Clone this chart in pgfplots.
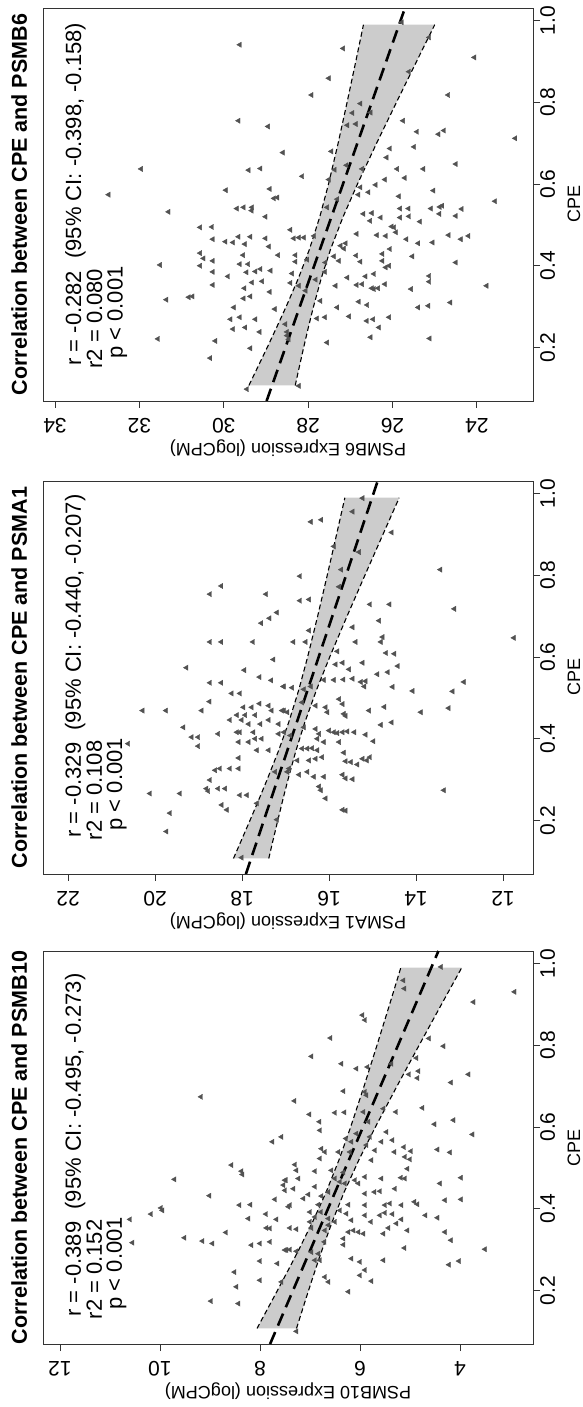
\documentclass[border=0pt]{standalone}
\usepackage{fontspec}
\setmainfont{Liberation Sans}
\usepackage{pgfplots}
\pgfplotsset{compat=1.18}
\newcommand{\tickfont}{\fontsize{21}{21}\selectfont}
\newcommand{\labfont}{\fontsize{18}{18}\selectfont}
\newcommand{\annfont}{\fontsize{22}{22}\selectfont}
\newcommand{\titfont}{\bfseries\fontsize{21.5}{21.5}\selectfont}
\pgfplotsset{
  panel/.style={
    width=393pt, height=490pt, scale only axis,
    xmin=0.069, xmax=1.031,
    axis line style={black!80, line width=0.9pt},
    every tick/.style={black!80, line width=0.9pt},
    tick align=outside, major tick length=7pt,
    xtick pos=bottom, ytick pos=left,
    xtick={0.2,0.4,0.6,0.8,1.0}, xticklabels={0.2,0.4,0.6,0.8,1.0},
    xticklabel style={font=\tickfont, anchor=north, inner sep=0pt},
    yticklabel style={font=\tickfont, rotate=90, anchor=south, inner sep=0pt},
    yticklabel shift=10pt,
    xlabel={CPE},
    xlabel style={font=\labfont, at={(axis description cs:0.5,0)}, anchor=base, yshift=-47pt},
    ylabel style={font=\labfont, at={(axis description cs:-0.107,0.5)}, anchor=base},
    title style={font=\titfont, at={(axis description cs:0.5,1)}, anchor=base, yshift=10pt},
    clip=true,
  },
  pts/.style={only marks, mark=triangle*, mark size=3pt, color=black!68},
  band/.style={fill=gray!40, draw=none},
  edge/.style={black, line width=1.1pt, dash pattern=on 5pt off 3pt},
  fit/.style={black, line width=2.6pt, dash pattern=on 13pt off 7pt},
}
\begin{document}
\begin{tikzpicture}
\useasboundingbox (-582pt,0pt) rectangle (0pt,1407pt);
\begin{scope}[transform canvas={rotate=90}]
% ---------------- PSMB10 ----------------
\begin{axis}[panel, at={(63pt,49pt)}, anchor=south west,
  ymin=2.54, ymax=12.34, ytick={4,6,8,10,12}, yticklabels={4,6,8,10,12},
  ylabel={PSMB10 Expression (logCPM)}, title={Correlation between CPE and PSMB10}]
\addplot[band] coordinates {(0.107,8.060) (0.15,7.871) (0.2,7.651) (0.25,7.435) (0.3,7.223) (0.37,6.940) (0.44,6.680) (0.52,6.419) (0.6,6.187) (0.7,5.919) (0.8,5.661) (0.9,5.408) (0.99,5.184) (0.99,3.966) (0.9,4.372) (0.8,4.819) (0.7,5.261) (0.6,5.693) (0.52,6.021) (0.44,6.320) (0.37,6.550) (0.3,6.757) (0.25,6.895) (0.2,7.029) (0.15,7.159) (0.107,7.270)};
\addplot[pts] coordinates {
(0.674,9.18) (0.576,7.57) (0.564,7.75) (0.507,8.57) (0.492,8.37) (0.484,8.35) (0.472,9.71) (0.470,7.48) (0.458,7.53) (0.449,7.33) (0.432,9.01) (0.409,8.41) (0.410,8.19) (0.423,7.70) (0.405,7.43) (0.402,9.98) (0.396,9.95) (0.387,10.18) (0.374,10.60) (0.376,8.23) (0.387,7.88) (0.374,7.67) (0.353,7.87) (0.352,7.80) (0.342,8.68) (0.329,9.51) (0.321,9.15) (0.315,8.95) (0.317,10.55) (0.311,8.17) (0.315,8.0) (0.319,7.8) (0.299,7.47) (0.272,8.0) (0.266,7.65) (0.245,8.51) (0.209,8.47) (0.225,8.0) (0.174,8.98) (0.168,8.43) (0.221,7.57)
(0.992,4.38) (0.959,5.13) (0.939,5.11) (0.931,2.91) (0.906,3.73) (0.874,5.95) (0.862,5.9) (0.818,6.59) (0.817,4.62) (0.798,4.33) (0.773,6.97) (0.769,4.87) (0.755,6.37) (0.743,6.07) (0.747,5.85) (0.755,5.37) (0.729,5.02) (0.737,4.83) (0.720,4.85) (0.729,3.83) (0.709,4.18) (0.688,6.33) (0.686,5.9) (0.678,5.87) (0.664,7.31) (0.635,6.5) (0.636,6.31) (0.631,7.01) (0.637,5.93) (0.645,5.53) (0.637,5.28) (0.647,4.75) (0.613,6.81) (0.592,6.8) (0.613,5.83) (0.607,4.51) (0.617,4.13) (0.582,3.75) (0.584,6.07) (0.576,5.8) (0.572,6.28) (0.564,6.17) (0.588,5.47) (0.564,5.57) (0.568,5.35) (0.556,5.87) (0.547,6.77) (0.539,6.7) (0.523,6.8) (0.539,6.43) (0.539,6.2) (0.543,5.7) (0.539,5.31) (0.551,5.12) (0.541,4.98) (0.527,5.1) (0.521,5.0) (0.545,4.45) (0.538,4.2) (0.519,5.77) (0.508,7.3) (0.494,7.27) (0.492,6.9) (0.474,7.23) (0.494,6.57) (0.489,6.33) (0.474,6.5) (0.466,6.4) (0.462,6.3) (0.470,6.1) (0.478,5.9) (0.462,6.03) (0.474,5.57) (0.476,5.18) (0.474,5.1) (0.476,3.98) (0.462,4.4) (0.498,5.05) (0.470,7.5) (0.445,7.5) (0.454,6.9) (0.435,7.03) (0.425,7.13) (0.431,6.77) (0.441,6.63) (0.410,6.83) (0.410,6.23) (0.437,5.9) (0.441,5.71) (0.443,5.6) (0.449,5.3) (0.409,5.9) (0.409,5.5) (0.413,5.4) (0.409,5.17) (0.417,4.91) (0.411,4.85) (0.421,4.3) (0.423,3.98) (0.409,7.4) (0.392,7.0) (0.392,6.78) (0.396,6.4) (0.388,6.27) (0.376,6.63) (0.380,6.9) (0.368,7.0) (0.368,6.5) (0.372,6.17) (0.384,5.9) (0.368,5.78) (0.384,5.6) (0.390,5.5) (0.387,5.35) (0.374,5.17) (0.384,4.69) (0.378,4.45) (0.353,7.4) (0.350,7.27) (0.353,6.97) (0.347,6.7) (0.360,6.63) (0.343,6.23) (0.347,6.13) (0.343,6.03) (0.339,5.93) (0.339,5.53) (0.353,5.43) (0.364,5.27) (0.347,5.05) (0.343,4.3) (0.323,4.18) (0.327,6.33) (0.312,6.33) (0.319,6.71) (0.299,7.5) (0.300,7.4) (0.296,7.27) (0.294,6.97) (0.274,6.9) (0.274,6.8) (0.278,6.17) (0.270,6.0) (0.250,5.9) (0.237,6.0) (0.233,6.7) (0.221,6.63) (0.223,5.77) (0.274,5.53) (0.304,5.11) (0.301,3.5) (0.263,4.22) (0.272,4.02) (0.197,6.23) (0.100,7.27) (0.290,6.83)};
\addplot[edge] coordinates {(0.107,8.060) (0.15,7.871) (0.2,7.651) (0.25,7.435) (0.3,7.223) (0.37,6.940) (0.44,6.680) (0.52,6.419) (0.6,6.187) (0.7,5.919) (0.8,5.661) (0.9,5.408) (0.99,5.184)};
\addplot[edge] coordinates {(0.107,7.270) (0.15,7.159) (0.2,7.029) (0.25,6.895) (0.3,6.757) (0.37,6.550) (0.44,6.320) (0.52,6.021) (0.6,5.693) (0.7,5.261) (0.8,4.819) (0.9,4.372) (0.99,3.966)};
\addplot[fit] coordinates {(0.069,7.7985) (1.031,4.4315)};
\node[anchor=base west, inner sep=0pt, font=\annfont] at (axis cs:0.136,11.58) {r = -0.389\ \ (95\% CI: -0.495, -0.273)};
\node[anchor=base west, inner sep=0pt, font=\annfont] at (axis cs:0.129,11.16) {r2 = 0.152};
\node[anchor=base west, inner sep=0pt, font=\annfont] at (axis cs:0.153,10.76) {p < 0.001};
\end{axis}
% ---------------- PSMA1 ----------------
\begin{axis}[panel, at={(533pt,49pt)}, anchor=south west,
  ymin=11.31, ymax=22.58, ytick={12,14,16,18,20,22}, yticklabels={12,14,16,18,20,22},
  ylabel={PSMA1 Expression (logCPM)}, title={Correlation between CPE and PSMA1}]
\addplot[band] coordinates {(0.107,18.199) (0.15,18.023) (0.2,17.820) (0.25,17.620) (0.3,17.425) (0.37,17.165) (0.44,16.929) (0.52,16.696) (0.6,16.494) (0.7,16.263) (0.8,16.043) (0.9,15.828) (0.99,15.637) (0.99,14.387) (0.9,14.762) (0.8,15.177) (0.7,15.587) (0.6,15.986) (0.52,16.288) (0.44,16.559) (0.37,16.765) (0.3,16.945) (0.25,17.066) (0.2,17.180) (0.15,17.293) (0.107,17.387)};
\addplot[pts] coordinates {
(0.774,18.48) (0.754,18.74) (0.754,17.45) (0.709,17.20) (0.695,17.37) (0.683,17.56) (0.637,18.74) (0.637,18.48) (0.637,17.75) (0.594,17.28) (0.574,19.28) (0.568,17.95) (0.551,17.60) (0.543,17.33) (0.528,17.05) (0.537,18.74) (0.537,18.48) (0.511,18.24) (0.511,18.05) (0.491,18.75) (0.486,17.60) (0.481,17.39) (0.469,20.29) (0.469,19.75) (0.469,18.93) (0.477,17.97) (0.477,17.78) (0.469,17.32) (0.469,17.08) (0.458,18.12) (0.458,17.93) (0.458,17.70) (0.446,18.28) (0.446,18.01) (0.446,17.39) (0.436,17.85) (0.436,17.58) (0.436,17.16) (0.428,19.35) (0.416,18.12) (0.416,18.05) (0.416,17.74) (0.412,18.55) (0.412,17.16) (0.404,19.16) (0.404,19.01) (0.400,17.70) (0.400,17.55) (0.392,18.08) (0.392,17.85) (0.388,20.62) (0.382,19.01) (0.372,17.66) (0.372,17.39) (0.353,18.08) (0.327,18.28) (0.327,18.08) (0.327,18.51) (0.323,18.62) (0.319,17.24) (0.299,18.74) (0.278,18.82) (0.278,18.55) (0.278,18.39) (0.272,18.78) (0.266,20.12) (0.266,19.43) (0.262,18.05) (0.262,17.89) (0.242,17.66) (0.238,18.47) (0.226,18.35) (0.218,19.66) (0.202,17.20) (0.173,19.74) (0.109,18.01)
(0.989,15.23) (0.956,15.46) (0.931,16.42) (0.936,16.18) (0.905,14.56) (0.871,15.89) (0.857,15.31) (0.814,13.44) (0.814,15.72) (0.798,16.67) (0.772,15.77) (0.738,16.67) (0.741,16.46) (0.729,15.06) (0.729,14.61) (0.718,13.12) (0.689,14.85) (0.673,15.46) (0.665,16.46) (0.637,16.82) (0.637,16.54) (0.649,14.77) (0.637,14.81) (0.637,15.39) (0.614,15.81) (0.610,14.69) (0.608,14.50) (0.582,15.85) (0.586,15.69) (0.586,15.23) (0.578,14.42) (0.570,15.54) (0.558,14.89) (0.563,14.65) (0.544,16.12) (0.544,15.89) (0.545,15.67) (0.547,15.46) (0.539,15.27) (0.541,15.16) (0.528,15.19) (0.527,14.54) (0.517,14.08) (0.516,13.16) (0.539,12.90) (0.528,17.04) (0.525,16.85) (0.521,16.58) (0.528,16.42) (0.469,17.04) (0.465,16.96) (0.489,16.62) (0.481,16.31) (0.477,16.08) (0.465,16.04) (0.497,15.77) (0.485,15.69) (0.461,15.66) (0.456,15.62) (0.469,15.08) (0.478,14.73) (0.465,13.89) (0.475,13.25) (0.434,14.81) (0.440,14.56) (0.416,17.04) (0.408,16.89) (0.428,16.58) (0.424,16.31) (0.412,16.23) (0.420,16.0) (0.416,15.89) (0.414,15.81) (0.416,15.69) (0.418,15.58) (0.416,15.42) (0.410,15.16) (0.394,14.98) (0.400,16.27) (0.392,16.12) (0.377,16.39) (0.376,16.50) (0.376,16.62) (0.372,16.27) (0.355,16.16) (0.392,15.77) (0.366,15.66) (0.345,15.62) (0.343,15.50) (0.337,15.35) (0.351,15.23) (0.347,15.13) (0.355,15.06) (0.347,16.73) (0.347,16.46) (0.351,16.31) (0.327,16.92) (0.319,16.96) (0.312,16.69) (0.319,16.50) (0.307,16.35) (0.307,16.12) (0.312,15.69) (0.303,15.62) (0.301,15.46) (0.283,16.23) (0.274,16.19) (0.254,16.08) (0.226,15.69) (0.224,15.62) (0.274,13.36) (0.647,11.75)};
\addplot[edge] coordinates {(0.107,18.199) (0.15,18.023) (0.2,17.820) (0.25,17.620) (0.3,17.425) (0.37,17.165) (0.44,16.929) (0.52,16.696) (0.6,16.494) (0.7,16.263) (0.8,16.043) (0.9,15.828) (0.99,15.637)};
\addplot[edge] coordinates {(0.107,17.387) (0.15,17.293) (0.2,17.180) (0.25,17.066) (0.3,16.945) (0.37,16.765) (0.44,16.559) (0.52,16.288) (0.6,15.986) (0.7,15.587) (0.8,15.177) (0.9,14.762) (0.99,14.387)};
\addplot[fit] coordinates {(0.069,17.913) (1.031,14.882)};
\node[anchor=base west, inner sep=0pt, font=\annfont] at (axis cs:0.158,21.706) {r = -0.329\ \ (95\% CI: -0.440, -0.207)};
\node[anchor=base west, inner sep=0pt, font=\annfont] at (axis cs:0.151,21.223) {r2 = 0.108};
\node[anchor=base west, inner sep=0pt, font=\annfont] at (axis cs:0.175,20.76) {p < 0.001};
\end{axis}
% ---------------- PSMB6 ----------------
\begin{axis}[panel, at={(1006pt,49pt)}, anchor=south west,
  ymin=22.67, ymax=34.285, ytick={24,26,28,30,32,34}, yticklabels={24,26,28,30,32,34},
  ylabel={PSMB6 Expression (logCPM)}, title={Correlation between CPE and PSMB6}]
\addplot[band] coordinates {(0.107,29.404) (0.15,29.203) (0.2,28.970) (0.25,28.743) (0.3,28.521) (0.37,28.228) (0.44,27.970) (0.52,27.723) (0.6,27.517) (0.7,27.289) (0.8,27.077) (0.9,26.871) (0.99,26.689) (0.99,24.999) (0.9,25.431) (0.8,25.907) (0.7,26.377) (0.6,26.831) (0.52,27.171) (0.44,27.470) (0.37,27.688) (0.3,27.873) (0.25,27.993) (0.2,28.106) (0.15,28.215) (0.107,28.306)};
\addplot[pts] coordinates {
(0.941,29.62) (0.755,29.65) (0.741,28.95) (0.677,28.60) (0.637,31.96) (0.634,29.41) (0.638,29.13) (0.574,32.73) (0.585,29.95) (0.588,28.91) (0.565,28.81) (0.567,28.73) (0.532,31.31) (0.540,29.69) (0.543,29.53) (0.543,29.33) (0.535,29.34) (0.520,29.01) (0.494,30.56) (0.495,30.28) (0.465,30.26) (0.459,29.96) (0.457,29.78) (0.471,29.65) (0.471,29.37) (0.453,29.50) (0.467,29.01) (0.447,28.93) (0.426,28.71) (0.431,30.56) (0.418,30.48) (0.412,30.26) (0.400,30.56) (0.426,29.54) (0.402,31.51) (0.385,30.26) (0.404,29.62) (0.404,29.42) (0.384,29.46) (0.386,29.25) (0.392,29.13) (0.388,28.89) (0.374,29.90) (0.359,29.33) (0.353,30.26) (0.362,29.09) (0.345,29.51) (0.336,28.91) (0.325,29.37) (0.320,29.53) (0.323,30.83) (0.325,30.74) (0.317,31.36) (0.298,29.76) (0.274,29.62) (0.269,29.84) (0.245,29.78) (0.249,29.49) (0.269,29.25) (0.238,29.15) (0.294,28.79) (0.221,31.56) (0.216,30.20) (0.198,29.37) (0.174,30.32) (0.238,28.50) (0.257,28.54) (0.098,29.45)
(0.996,25.78) (0.959,25.13) (0.932,27.17) (0.910,24.06) (0.875,25.61) (0.859,27.51) (0.818,27.92) (0.818,24.68) (0.797,26.76) (0.774,26.95) (0.775,26.52) (0.744,27.07) (0.747,26.87) (0.755,25.75) (0.728,25.42) (0.722,24.91) (0.731,24.78) (0.712,23.09) (0.680,27.45) (0.687,26.06) (0.691,25.49) (0.665,26.14) (0.649,24.50) (0.646,27.09) (0.635,27.37) (0.637,26.72) (0.637,25.89) (0.637,25.27) (0.619,28.14) (0.611,27.51) (0.611,26.18) (0.598,26.40) (0.615,25.71) (0.592,26.76) (0.574,26.81) (0.580,26.57) (0.584,25.03) (0.570,25.85) (0.563,27.31) (0.543,27.55) (0.558,23.57) (0.527,26.69) (0.529,26.49) (0.518,26.28) (0.510,26.53) (0.540,25.82) (0.540,25.62) (0.518,25.82) (0.521,25.61) (0.540,25.09) (0.544,24.88) (0.547,24.82) (0.527,24.89) (0.522,24.50) (0.539,24.36) (0.508,25.35) (0.496,26.02) (0.494,25.96) (0.482,25.92) (0.488,28.42) (0.467,28.34) (0.469,28.22) (0.469,28.10) (0.473,27.86) (0.478,26.85) (0.475,26.37) (0.473,26.16) (0.465,25.67) (0.455,25.39) (0.457,25.05) (0.475,24.67) (0.465,24.38) (0.473,24.20) (0.449,27.23) (0.455,27.11) (0.442,27.15) (0.423,27.39) (0.412,27.27) (0.425,26.86) (0.410,26.76) (0.429,26.24) (0.441,26.06) (0.423,25.53) (0.412,26.24) (0.396,26.16) (0.400,26.08) (0.426,28.30) (0.410,28.30) (0.415,28.02) (0.381,28.38) (0.408,27.59) (0.385,27.60) (0.366,27.82) (0.358,28.42) (0.351,28.22) (0.339,28.06) (0.371,27.07) (0.351,27.35) (0.353,26.85) (0.355,26.72) (0.374,26.64) (0.380,26.44) (0.345,26.49) (0.343,26.44) (0.345,26.34) (0.355,26.18) (0.343,25.56) (0.375,25.13) (0.361,25.13) (0.408,24.50) (0.351,23.77) (0.314,27.71) (0.298,27.31) (0.312,26.80) (0.304,26.60) (0.298,25.39) (0.302,25.15) (0.310,24.63) (0.271,27.79) (0.274,27.60) (0.276,27.03) (0.265,26.61) (0.269,26.46) (0.274,26.08) (0.249,26.32) (0.225,26.52) (0.212,27.55) (0.222,25.12) (0.229,28.50) (0.220,28.46) (0.106,28.22)};
\addplot[edge] coordinates {(0.107,29.404) (0.15,29.203) (0.2,28.970) (0.25,28.743) (0.3,28.521) (0.37,28.228) (0.44,27.970) (0.52,27.723) (0.6,27.517) (0.7,27.289) (0.8,27.077) (0.9,26.871) (0.99,26.689)};
\addplot[edge] coordinates {(0.107,28.306) (0.15,28.215) (0.2,28.106) (0.25,27.993) (0.3,27.873) (0.37,27.688) (0.44,27.470) (0.52,27.171) (0.6,26.831) (0.7,26.377) (0.8,25.907) (0.9,25.431) (0.99,24.999)};
\addplot[fit] coordinates {(0.069,28.985) (1.031,25.704)};
\node[anchor=base west, inner sep=0pt, font=\annfont] at (axis cs:0.155,33.384) {r = -0.282\ \ (95\% CI: -0.398, -0.158)};
\node[anchor=base west, inner sep=0pt, font=\annfont] at (axis cs:0.148,32.886) {r2 = 0.080};
\node[anchor=base west, inner sep=0pt, font=\annfont] at (axis cs:0.172,32.40) {p < 0.001};
\end{axis}
\end{scope}
\end{tikzpicture}
\end{document}
